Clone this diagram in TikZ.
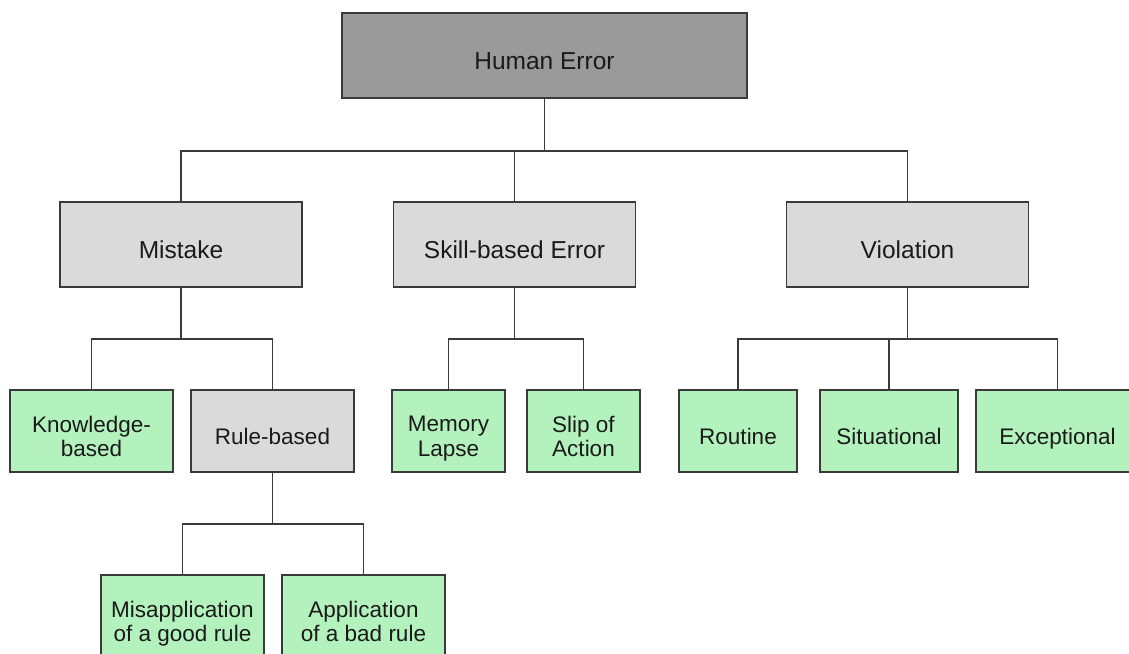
\documentclass[tikz,border=0pt]{standalone}
\usepackage{fontspec}
\setmainfont{Liberation Sans}
\definecolor{topfill}{HTML}{999A99}
\definecolor{midfill}{HTML}{D9DAD9}
\definecolor{leaffill}{HTML}{B3F2BD}
\definecolor{edgecol}{HTML}{3A3A3A}
\definecolor{txtcol}{HTML}{1A1A1A}
\tikzset{
  boxbase/.style={draw=edgecol, line width=1.3pt, rectangle, inner sep=0pt},
  bigtxt/.style={font=\fontsize{24.5}{29}\selectfont, text=txtcol, align=center, text depth=0pt, yshift=-5.5pt},
  smalltxt/.style={font=\fontsize{22.5}{24.5}\selectfont, text=txtcol, align=center, text depth=0pt, yshift=-5.5pt},
  topbox/.style={boxbase, fill=topfill, minimum width=405pt, minimum height=85pt},
  midbox/.style={boxbase, fill=midfill, minimum width=242pt, minimum height=85pt},
  leafbox/.style={boxbase, fill=leaffill, minimum height=82pt},
  graybox/.style={boxbase, fill=midfill, minimum height=82pt},
  conn/.style={draw=edgecol, line width=1.3pt}
}
\begin{document}
\begin{tikzpicture}[x=1pt, y=-1pt]
\useasboundingbox (0,0) rectangle (1129,653);
% level 1
\node[topbox, label={[bigtxt, name=heT]center:Human Error}] (he) at (544.5,55.5) {};
% level 2
\node[midbox, label={[bigtxt, name=misT]center:Mistake}] (mis) at (181,244.5) {};
\node[midbox, label={[bigtxt, name=skillT]center:Skill-based Error}] (skill) at (514.5,244.5) {};
\node[midbox, label={[bigtxt, name=violT]center:Violation}] (viol) at (907.5,244.5) {};
% level 3
\node[leafbox, minimum width=163pt, label={[smalltxt, name=knowT]center:Knowledge-\\based}] (know) at (91.5,431) {};
\node[graybox, minimum width=163pt, label={[smalltxt, name=ruleT]center:Rule-based}] (rule) at (272.5,431) {};
\node[leafbox, minimum width=113pt, label={[smalltxt, name=memT]center:Memory\\Lapse}] (mem) at (448.5,431) {};
\node[leafbox, minimum width=113pt, label={[smalltxt, name=slipT]center:Slip of\\Action}] (slip) at (583.5,431) {};
\node[leafbox, minimum width=118pt, label={[smalltxt, name=routT]center:Routine}] (rout) at (738,431) {};
\node[leafbox, minimum width=138pt, label={[smalltxt, name=situT]center:Situational}] (situ) at (889,431) {};
\node[leafbox, minimum width=163pt, label={[smalltxt, name=excT]center:Exceptional}] (exc) at (1057.5,431) {};
% level 4
\node[leafbox, minimum width=163pt, label={[smalltxt, name=misaT]center:Misapplication\\of a good rule}] (misa) at (182.5,616) {};
\node[leafbox, minimum width=163pt, label={[smalltxt, name=appT]center:Application\\of a bad rule}] (app) at (363.5,616) {};
% connectors
\coordinate (j1) at (544.5,151);
\coordinate (j2) at (181,339);
\coordinate (j3) at (514.5,339);
\coordinate (j4) at (907.5,339);
\coordinate (j5) at (272.5,524);
\draw[conn] (he.south) -- (j1);
\draw[conn] (mis.north) |- (j1) -| (viol.north);
\draw[conn] (skill.north) -- (skill.north |- j1);
\draw[conn] (mis.south) -- (j2);
\draw[conn] (know.north) |- (j2) -| (rule.north);
\draw[conn] (skill.south) -- (j3);
\draw[conn] (mem.north) |- (j3) -| (slip.north);
\draw[conn] (viol.south) -- (j4);
\draw[conn] (rout.north) |- (j4) -| (exc.north);
\draw[conn] (situ.north) -- (situ.north |- j4);
\draw[conn] (rule.south) -- (j5);
\draw[conn] (misa.north) |- (j5) -| (app.north);
\end{tikzpicture}
\end{document}
